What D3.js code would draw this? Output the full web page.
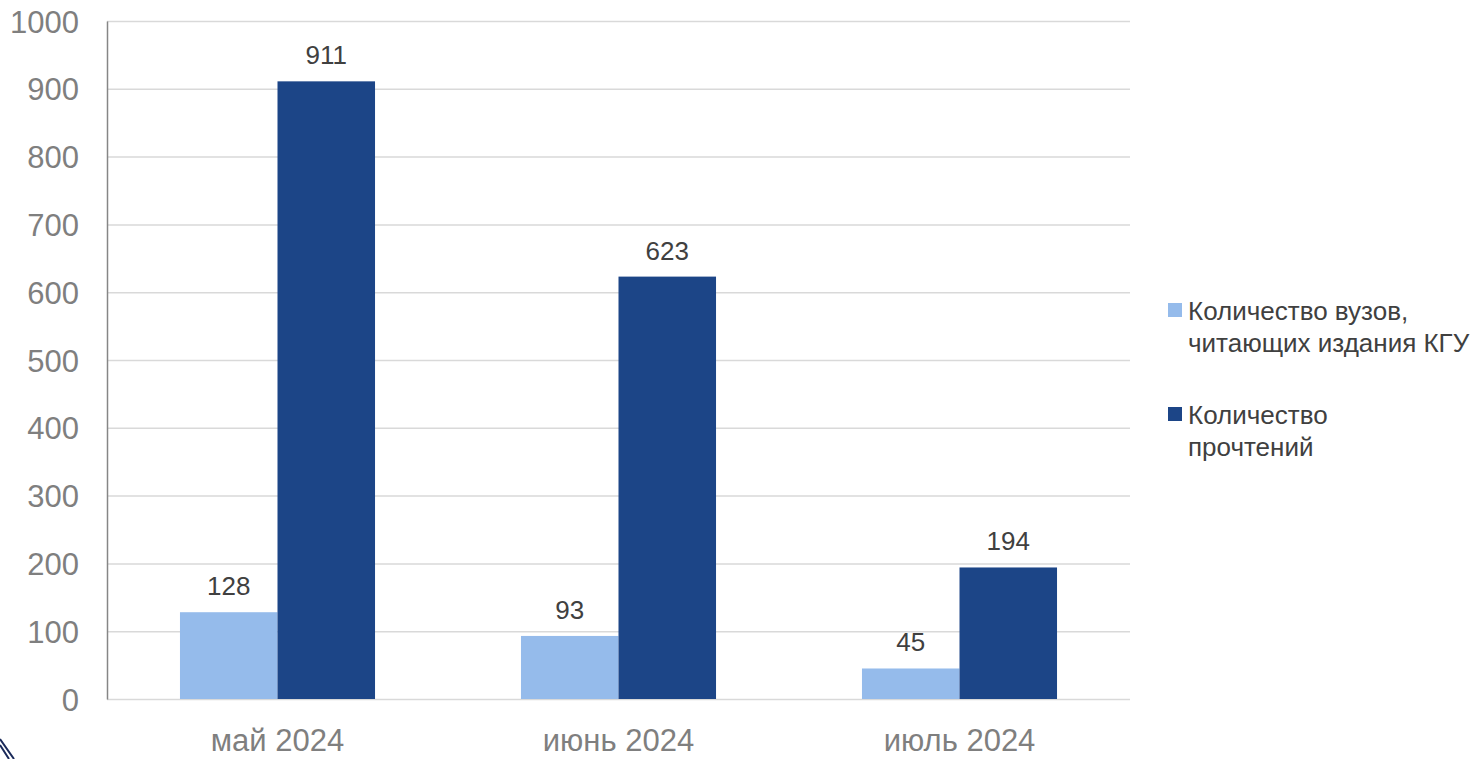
<!DOCTYPE html>
<html>
<head>
<meta charset="utf-8">
<script src="https://cdn.jsdelivr.net/npm/d3@7"></script>
<style>
  html, body { margin: 0; padding: 0; background: #fff; }
  svg { display: block; font-family: "Liberation Sans", Arial, sans-serif; }
</style>
</head>
<body>
<svg id="chart" width="1479" height="759"></svg>
<script>
  'use strict';

  var categories = ['май 2024', 'июнь 2024', 'июль 2024'];
  var seriesNames = [
    ['Количество вузов,', 'читающих издания КГУ'],
    ['Количество', 'прочтений']
  ];
  var universities = [128, 93, 45];
  var reads = [911, 623, 194];
  var yTicks = [0, 100, 200, 300, 400, 500, 600, 700, 800, 900, 1000];
  var colors = ['#95bbeb', '#1c4587'];

  (function () {
    var svg = d3.select('#chart'),
      left = 107,
      right = 1130,
      plotTop = 21,
      bottom = 699;

    var x = d3.scaleBand()
      .domain(categories)
      .range([left, right])
      .paddingInner(0.428)
      .paddingOuter(0.214);

    var xs = d3.scaleBand()
      .domain([0, 1])
      .range([0, x.bandwidth()]);

    var y = d3.scaleLinear()
      .domain([0, 1000])
      .range([bottom, plotTop]);

    // gridlines
    svg.append('g')
      .selectAll('line')
      .data(yTicks)
      .enter().append('line')
      .attr('x1', left)
      .attr('x2', right)
      .attr('y1', function (d) { return y(d) + 0.5; })
      .attr('y2', function (d) { return y(d) + 0.5; })
      .attr('stroke', '#d9d9d9')
      .attr('stroke-width', 1.5);

    // y axis
    var yAxis = svg.append('g')
      .attr('transform', 'translate(' + left + ',0)')
      .call(d3.axisLeft(y).tickValues(yTicks).tickFormat(d3.format('d')).tickSize(0).tickPadding(28));
    yAxis.select('.domain').attr('stroke', '#868686').attr('stroke-width', 1.5);
    yAxis.selectAll('text')
      .attr('fill', '#7f7f7f')
      .style('font-size', '31px')
      .attr('dy', '0.36em');

    // x axis
    var xAxis = svg.append('g')
      .attr('transform', 'translate(0,' + bottom + ')')
      .call(d3.axisBottom(x).tickSize(0).tickPadding(30));
    xAxis.select('.domain').remove();
    xAxis.selectAll('text')
      .attr('fill', '#7f7f7f')
      .style('font-size', '31px');

    var rows = categories.map(function (c, i) {
      return { cat: c, values: [universities[i], reads[i]] };
    });

    var groups = svg.append('g')
      .selectAll('g')
      .data(rows)
      .enter().append('g')
      .attr('transform', function (d) { return 'translate(' + x(d.cat) + ',0)'; });

    groups.selectAll('rect')
      .data(function (d) { return d.values; })
      .enter().append('rect')
      .attr('x', function (d, i) { return xs(i); })
      .attr('width', xs.bandwidth())
      .attr('y', function (d) { return y(d); })
      .attr('height', function (d) { return bottom - y(d); })
      .attr('fill', function (d, i) { return colors[i]; });

    groups.selectAll('text.val')
      .data(function (d) { return d.values; })
      .enter().append('text')
      .attr('class', 'val')
      .attr('x', function (d, i) { return xs(i) + xs.bandwidth() / 2; })
      .attr('y', function (d) { return y(d) - 17; })
      .attr('text-anchor', 'middle')
      .attr('fill', '#404040')
      .style('font-size', '26px')
      .text(function (d) { return d; });

    // legend
    var legend = svg.append('g')
      .selectAll('g')
      .data(seriesNames)
      .enter().append('g')
      .attr('transform', function (d, i) { return 'translate(1168,' + (303 + i * 104) + ')'; });

    legend.append('rect')
      .attr('width', 14)
      .attr('height', 14)
      .attr('fill', function (d, i) { return colors[i]; });

    legend.append('text')
      .attr('x', 20)
      .attr('y', 17)
      .attr('fill', '#404040')
      .style('font-size', '26px')
      .selectAll('tspan')
      .data(function (d) { return d; })
      .enter().append('tspan')
      .attr('x', 20)
      .attr('dy', function (d, i) { return i ? 32 : 0; })
      .text(function (d) { return d; });

    // cropped logo fragment, bottom-left corner
    svg.append('path')
      .attr('d', 'M0,739 L14,759 M0,745 L9,759')
      .attr('stroke', '#1a2a5a')
      .attr('stroke-width', 2)
      .attr('fill', 'none');
  })();
</script>
</body>
</html>
